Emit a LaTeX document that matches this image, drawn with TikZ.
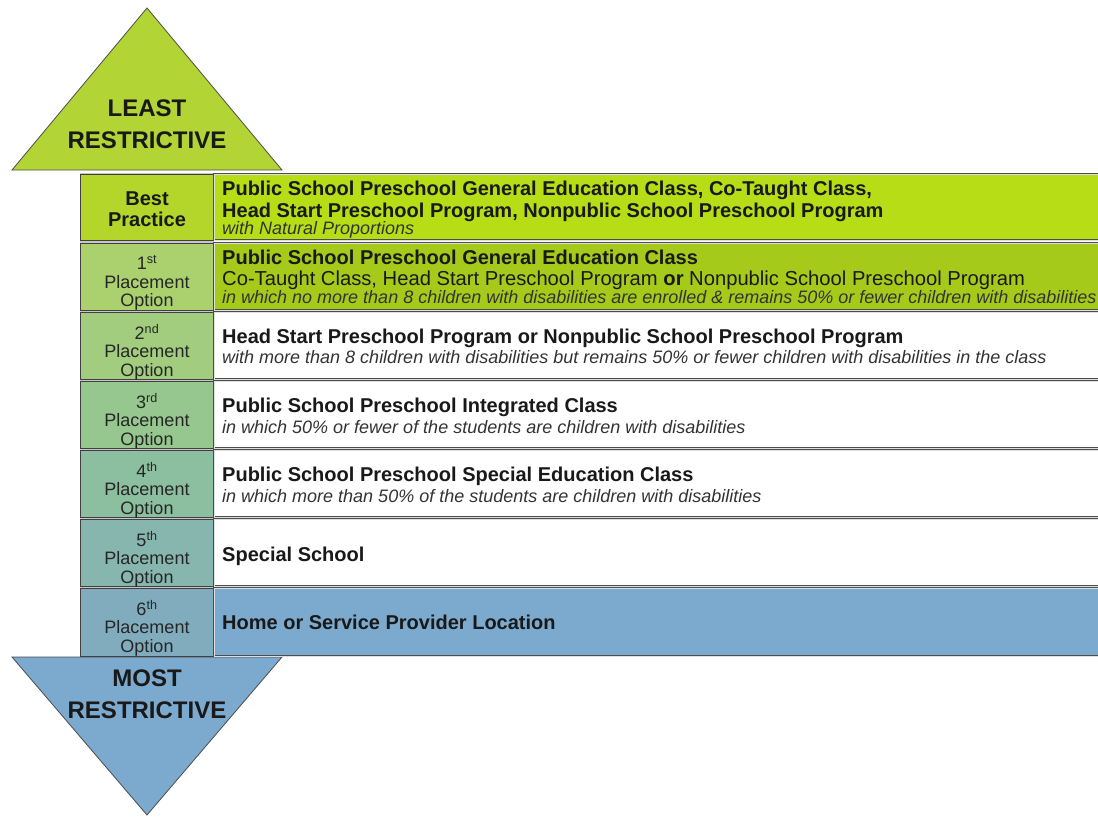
\documentclass[tikz,border=0pt]{standalone}
\usepackage{fontspec}
\setmainfont{Liberation Sans}
\usepackage{tikz}
\definecolor{limeup}{RGB}{178,212,52}
\definecolor{limebest}{RGB}{183,221,22}
\definecolor{limebestcell}{RGB}{180,214,42}
\definecolor{olivefirst}{RGB}{166,202,26}
\definecolor{cellone}{RGB}{170,209,110}
\definecolor{celltwo}{RGB}{163,205,126}
\definecolor{cellthree}{RGB}{150,199,142}
\definecolor{cellfour}{RGB}{140,190,160}
\definecolor{cellfive}{RGB}{134,182,173}
\definecolor{cellsix}{RGB}{128,172,190}
\definecolor{bluedown}{RGB}{124,170,206}

\begin{document}
\begin{tikzpicture}[x=1pt,y=-1pt,
  arrowlbl/.style={font=\fontsize{24}{32}\selectfont\bfseries,align=center,text=black!90},
  celllbl/.style={font=\fontsize{18}{18.5}\selectfont,align=center,text=black!85},
  bestlbl/.style={font=\fontsize{20}{21}\selectfont\bfseries,align=center,text=black!90},
  headtxt/.style={anchor=base west,inner xsep=0pt,font=\fontsize{20}{22}\selectfont\bfseries,text=black!90},
  plaintxt/.style={anchor=base west,inner xsep=0pt,font=\fontsize{20.2}{22}\selectfont,text=black!90},
  notetxt/.style={anchor=base west,inner xsep=0pt,font=\fontsize{18}{18}\selectfont\itshape,text=black!80},
  rowbox/.style={draw=black!70,double=gray!25,double distance=1pt,line width=0.8pt},
  cellbox/.style={draw=black!75,line width=1pt}]

\useasboundingbox (0,0) rectangle (1098,817);

% arrows
\draw [fill=limeup,draw=black!70,line width=0.8pt](12,170) -- (147,8) -- (282,170) -- cycle;
\draw [fill=bluedown,draw=black!70,line width=0.8pt](12,657) -- (282,657) -- (147,815) -- cycle;
\node (least) [arrowlbl] at (147,124) {LEAST\\RESTRICTIVE};
\node (most) [arrowlbl] at (147,694) {MOST\\RESTRICTIVE};

% left column
\fill [gray!45](80,173) rectangle (214,656);
\draw [cellbox,fill=limebestcell](80,174) rectangle (214,240);
\draw [cellbox,fill=cellone](80,243) rectangle (214,310);
\draw [cellbox,fill=celltwo](80,312) rectangle (214,379);
\draw [cellbox,fill=cellthree](80,381) rectangle (214,448);
\draw [cellbox,fill=cellfour](80,450) rectangle (214,517);
\draw [cellbox,fill=cellfive](80,519) rectangle (214,586);
\draw [cellbox,fill=cellsix](80,588) rectangle (214,656);
\node (best) [bestlbl] at (147,209) {Best\\Practice};
\node (opt1) [celllbl] at (147,283) {1\textsuperscript{st}\\Placement\\Option};
\node (opt2) [celllbl] at (147,352) {2\textsuperscript{nd}\\Placement\\Option};
\node (opt3) [celllbl] at (147,421) {3\textsuperscript{rd}\\Placement\\Option};
\node (opt4) [celllbl] at (147,490) {4\textsuperscript{th}\\Placement\\Option};
\node (opt5) [celllbl] at (147,559) {5\textsuperscript{th}\\Placement\\Option};
\node (opt6) [celllbl] at (147,628) {6\textsuperscript{th}\\Placement\\Option};

% right rows
\draw [rowbox,fill=limebest](214,174) rectangle (1110,240);
\draw [rowbox,fill=olivefirst](214,243) rectangle (1110,310);
\draw [rowbox,fill=white](214,312) rectangle (1110,379);
\draw [rowbox,fill=white](214,381) rectangle (1110,448);
\draw [rowbox,fill=white](214,450) rectangle (1110,517);
\draw [rowbox,fill=white](214,519) rectangle (1110,586);
\draw [rowbox,fill=bluedown](214,588) rectangle (1110,656);

\node (bestA) [headtxt] at (222,195) {Public School Preschool General Education Class, Co-Taught Class,};
\node (bestB) [headtxt] at (222,217) {Head Start Preschool Program, Nonpublic School Preschool Program};
\node (bestC) [notetxt] at (222,234) {with Natural Proportions};
\node (oneA) [headtxt] at (222,264) {Public School Preschool General Education Class};
\node (oneB) [plaintxt] at (222,285) {Co-Taught Class, Head Start Preschool Program \textbf{or} Nonpublic School Preschool Program};
\node (oneC) [notetxt] at (222,303) {in which no more than 8 children with disabilities are enrolled \& remains 50\% or fewer children with disabilities};
\node (twoA) [headtxt] at (222,343) {Head Start Preschool Program or Nonpublic School Preschool Program};
\node (twoB) [notetxt] at (222,363) {with more than 8 children with disabilities but remains 50\% or fewer children with disabilities in the class};
\node (threeA) [headtxt] at (222,412) {Public School Preschool Integrated Class};
\node (threeB) [notetxt] at (222,433) {in which 50\% or fewer of the students are children with disabilities};
\node (fourA) [headtxt] at (222,481) {Public School Preschool Special Education Class};
\node (fourB) [notetxt] at (222,502) {in which more than 50\% of the students are children with disabilities};
\node (five) [headtxt] at (222,561) {Special School};
\node (six) [headtxt] at (222,629) {Home or Service Provider Location};
\end{tikzpicture}
\end{document}
